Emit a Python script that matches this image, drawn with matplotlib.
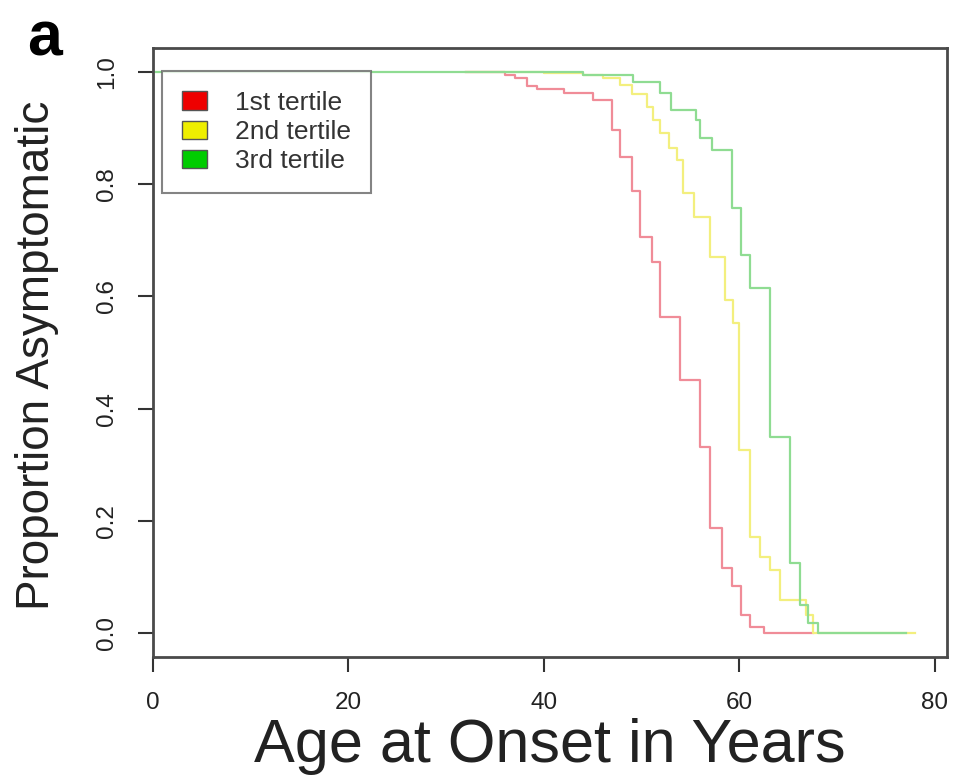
import matplotlib
matplotlib.use("Agg")
import matplotlib.pyplot as plt
from matplotlib.patches import Patch

# ---- data ----
red_age = [32, 36, 37, 38.3, 39.3, 42, 45, 47, 47.8, 49, 49.8, 51, 51.9, 53.9, 56, 57, 58.2, 59.2, 60.2, 61.1, 62.5, 67.5]
red_surv = [1.0, 0.995, 0.99, 0.975, 0.969, 0.963, 0.950, 0.897, 0.849, 0.787, 0.706, 0.662, 0.564, 0.451, 0.332, 0.187, 0.116, 0.083, 0.032, 0.01, 0.0, 0.0]

yel_age = [32, 40, 44, 46, 47.8, 49, 50.5, 51.2, 51.9, 52.8, 53.6, 54.2, 55.3, 57, 58.5, 59.3, 60, 61.1, 62.1, 63.1, 64.1, 66.8, 67.5, 78]
yel_surv = [1.0, 0.998, 0.995, 0.99, 0.977, 0.96, 0.938, 0.915, 0.891, 0.865, 0.843, 0.784, 0.742, 0.671, 0.594, 0.553, 0.326, 0.172, 0.136, 0.112, 0.059, 0.032, 0.0, 0.0]

grn_age = [0, 44, 49.1, 51.9, 53, 55.6, 56, 57.2, 59.2, 60.2, 61.1, 63.1, 65.2, 66.2, 67, 68, 77]
grn_surv = [1.0, 0.995, 0.983, 0.962, 0.932, 0.914, 0.882, 0.861, 0.758, 0.674, 0.615, 0.350, 0.124, 0.05, 0.018, 0.0, 0.0]

labels = ["1st tertile", "2nd tertile", "3rd tertile"]
x_ticks = [0, 20, 40, 60, 80]
y_ticks = [0.0, 0.2, 0.4, 0.6, 0.8, 1.0]
y_ticklabels = ["0.0", "0.2", "0.4", "0.6", "0.8", "1.0"]

line_colors = ["#f08c98", "#f3ef7e", "#8fdc92"]
legend_colors = ["#ee0000", "#eeee00", "#00cc00"]

plt.rcParams['font.family'] = ['Liberation Sans', 'DejaVu Sans']

fig = plt.figure(figsize=(9.55, 7.81), dpi=100)
ax = fig.add_axes([153/955, (781-657)/781, 794/955, 609/781])

for ages, surv, c in zip([red_age, yel_age, grn_age], [red_surv, yel_surv, grn_surv], line_colors):
    ax.plot(ages, surv, drawstyle='steps-post', color=c, lw=1.6)

ax.set_xlim(0, 81.23)
ax.set_ylim(-0.0428, 1.0428)
ax.set_xticks(x_ticks)
ax.set_yticks(y_ticks)
ax.set_yticklabels(y_ticklabels, rotation=90, va='center')

for s in ax.spines.values():
    s.set_color('#4a4a4a')
    s.set_linewidth(2.0)

ax.tick_params(direction='out', length=11, width=1.5, pad=14, colors='#333333',
               labelsize=17.5, labelcolor='#222222')

ax.set_xlabel("Age at Onset in Years", fontsize=44, color='#222222')
ax.xaxis.set_label_coords(0.5, -0.100)
ax.xaxis.label.set_va('top')
ax.set_ylabel("Proportion Asymptomatic", fontsize=33, color='#222222')
ax.yaxis.set_label_coords(-0.118, 0.496)

handles = [Patch(facecolor=c, edgecolor='#555555', linewidth=1.0) for c in legend_colors]
leg = ax.legend(handles, labels, loc='upper left', bbox_to_anchor=(0.0115, 0.962),
                fontsize=19, frameon=True, fancybox=False, edgecolor='#666666',
                handlelength=0.96, handleheight=0.7, handletextpad=1.05,
                labelspacing=0.2, borderpad=0.75, borderaxespad=0.0,
                labelcolor='#333333')
leg.get_frame().set_linewidth(1.5)

fig.text(27/955, 1 - 55/781, "a", fontsize=45, fontweight='bold', va='baseline', ha='left')

fig.savefig("out.png", dpi=100)
